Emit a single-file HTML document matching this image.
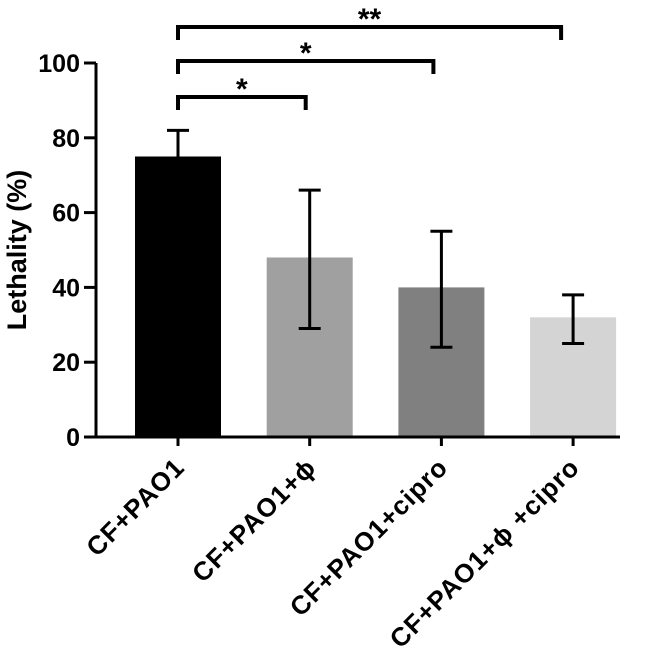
<!DOCTYPE html>
<html><head><meta charset="utf-8"><style>
html,body{margin:0;padding:0;background:#fff;}
svg{display:block;font-family:"Liberation Sans",Arial,sans-serif;}
</style></head><body>
<svg id="chart" width="662" height="657">
<g id="plot"></g>
</svg>
<script>
const categories = ["CF+PAO1", "CF+PAO1+\u03d5", "CF+PAO1+cipro", "CF+PAO1+\u03d5 +cipro"];
const means = [75, 48, 40, 32];
const errHigh = [82, 66, 55, 38];
const errLow = [75, 29, 24, 25];
const colors = ["#000000", "#a0a0a0", "#808080", "#d4d4d4"];
const yTicks = [0, 20, 40, 60, 80, 100];
const brackets = [[0, 1, "*"], [0, 2, "*"], [0, 3, "**"]];
const NS = "http://www.w3.org/2000/svg";
const g = document.getElementById('plot');
const y0 = 437, y100 = 63;
const y = v => y0 - (v / 100) * (y0 - y100);
const xc = i => 178 + i * 131.7;
const bw = 86;
function mk(tag, attrs, parent) { const e = document.createElementNS(NS, tag); for (const k in attrs) e.setAttribute(k, attrs[k]); (parent || g).appendChild(e); return e; }
categories.forEach((c, i) => {
  const b = mk('rect', { x: xc(i) - bw / 2, y: y(means[i]), width: bw, height: y0 - y(means[i]), fill: colors[i] });
  
  
  const e = mk('path', { d: `M${xc(i)} ${y(errLow[i])}V${y(errHigh[i])}M${xc(i) - 11} ${y(errHigh[i])}H${xc(i) + 11}` + (errLow[i] < means[i] ? `M${xc(i) - 11} ${y(errLow[i])}H${xc(i) + 11}` : ''), stroke: '#000', 'stroke-width': 3, fill: 'none' });
  
  
  mk('line', { x1: xc(i), x2: xc(i), y1: y0, y2: y0 + 9, stroke: '#000', 'stroke-width': 3 });
  const lbl = mk('text', { x: 0, y: 0, 'font-size': 26, 'font-weight': 'bold', 'letter-spacing': 1, 'text-anchor': 'end', transform: `translate(${xc(i) + 8},${y0 + 32}) rotate(-45)` });
  lbl.textContent = c;
  
  
});
const ax = mk('path', { d: `M96 ${y100}V${y0}H620`, stroke: '#000', 'stroke-width': 3, fill: 'none' });


yTicks.forEach(v => {
  mk('line', { x1: 84, x2: 96, y1: y(v), y2: y(v), stroke: '#000', 'stroke-width': 3 });
  const t = mk('text', { x: 80, y: y(v) + 9, 'font-size': 25, 'font-weight': 'bold', 'text-anchor': 'end' });
  t.textContent = v;
  
  
});
const yt = mk('text', { x: 0, y: 0, 'font-size': 27, 'font-weight': 'bold', 'text-anchor': 'middle', transform: `translate(26,250) rotate(-90)` });
yt.textContent = 'Lethality (%)';


const by = [97, 61, 27];
brackets.forEach((br, k) => {
  const a = xc(br[0]), b = xc(br[1]) - 4 * br[1];
  const p = mk('path', { d: `M${a} ${by[k] + 13}V${by[k]}H${b}V${by[k] + 13}`, stroke: '#000', 'stroke-width': 4, fill: 'none' });
  
  
  const s = mk('text', { x: (a + b) / 2, y: by[k] + 2, 'font-size': 30, 'font-weight': 'bold', 'text-anchor': 'middle' });
  s.textContent = br[2];
  
  
});
</script>
</body></html>
